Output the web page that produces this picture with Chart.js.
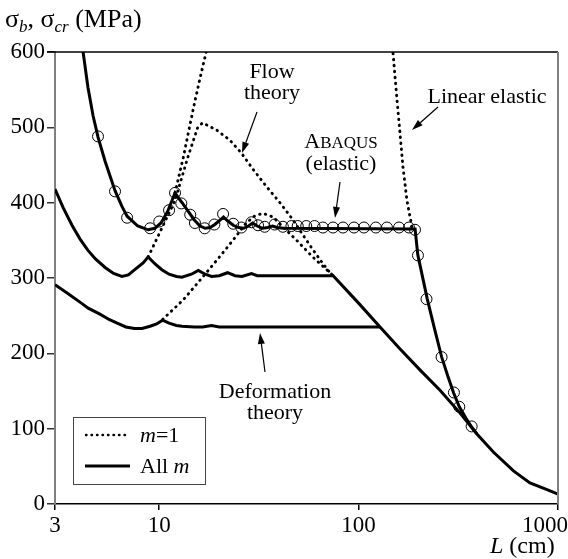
<!DOCTYPE html>
<html>
<head>
<meta charset="utf-8">
<script src="https://cdn.jsdelivr.net/npm/chart.js@4.4.1/dist/chart.umd.min.js"></script>
<style>
  html, body { margin: 0; padding: 0; background: #fff; }
  #wrap { width: 568px; height: 559px; position: relative; }
</style>
</head>
<body>
<div id="wrap"><canvas id="bucklingChart"></canvas></div>
<script>
const xTicks = [3, 10, 100, 1000];
const yTicks = [0, 100, 200, 300, 400, 500, 600];

// All m (solid lines), [L (cm), stress (MPa)]
const elasticAllM = [
  [4.0, 630], [4.15, 600], [4.39, 553], [4.66, 515], [4.93, 487], [5.35, 455], [6.0, 416],
  [6.5, 395], [6.9, 382], [7.8, 369], [8.8, 364], [9.5, 366], [10.2, 373], [11.0, 388],
  [12.0, 413], [12.5, 406], [13.1, 399], [14.0, 388], [15.0, 377], [16.0, 369], [17.0, 366],
  [18.0, 367], [19.0, 371], [20.0, 376], [21.0, 381], [22.0, 376], [23.5, 370], [25.0, 367],
  [26.5, 366], [28.0, 369], [29.4, 373], [31.0, 369], [33.0, 366], [35.0, 367], [37.0, 369],
  [39.0, 367], [42.0, 366], [192, 365], [198, 331], [221, 272], [240, 233], [261, 195],
  [280, 170], [300, 147], [320, 129], [345, 114], [369, 102], [392, 93]
];
const flowAllM = [
  [3.0, 418], [3.3, 393], [3.65, 370], [4.0, 352], [4.38, 337], [4.8, 325], [5.35, 314],
  [5.9, 306], [6.5, 302], [7.0, 304], [7.7, 313], [8.3, 320], [8.8, 328], [9.5, 319],
  [10.3, 311], [11.2, 305], [12.2, 302], [13.0, 301], [14.5, 305], [15.7, 310], [17.0, 305],
  [18.3, 302], [20.0, 303], [22.0, 307], [24.0, 303], [26.0, 302], [29.0, 306], [31.0, 303],
  [74.5, 303], [99.7, 267], [128, 235], [161, 206], [203, 178], [256, 151], [322, 121],
  [392, 93], [474, 69], [598, 44], [723, 28], [881, 19], [1000, 13]
];
const deformationAllM = [
  [3.0, 291], [3.45, 280], [4.1, 266], [4.4, 260], [5.04, 252], [5.6, 245], [6.15, 240],
  [6.8, 235], [7.5, 233], [8.2, 233], [9.0, 236], [9.7, 239], [10.4, 244], [11.2, 240],
  [12.2, 237], [13.0, 236], [15.0, 235], [16.5, 235], [18.3, 237], [20.0, 235], [128, 235]
];

// m = 1 (dotted lines)
const elasticM1 = [
  [12.0, 413], [13.2, 460], [14.3, 505], [15.1, 535], [16.2, 571], [17.2, 600], [17.7, 613]
];
const flowM1 = [
  [8.8, 328], [10.3, 366], [12.0, 403], [13.9, 460], [15.6, 500], [16.5, 506], [19.5, 496],
  [22.6, 483], [25.8, 466], [29.4, 445], [34.6, 421], [40.3, 400], [46.6, 378], [52.6, 357],
  [58.8, 338], [65.0, 322], [71.8, 307], [74.5, 303]
];
const deformationM1 = [
  [10.4, 245], [13.2, 271], [16.0, 297], [19.5, 324], [23.4, 350], [27.3, 373], [30.0, 382],
  [33.0, 386], [37.2, 381], [41.7, 368], [48.9, 350], [58.8, 328], [71.8, 307], [74.5, 303]
];
const linearElasticM1 = [
  [146, 630], [148.6, 600], [155.8, 536], [161.3, 492], [166.9, 447], [174.7, 403],
  [185, 368], [190, 364]
];

// ABAQUS (elastic) results
const abaqusElastic = [
  [4.93, 488], [6.0, 415], [6.9, 380], [9.0, 366], [10.0, 375], [11.2, 390], [12.0, 413],
  [12.9, 399], [14.3, 384], [15.1, 373], [16.9, 366], [18.9, 371], [20.9, 385], [23.5, 372],
  [25.8, 367], [29.0, 374], [31.3, 370], [33.8, 368], [37.9, 371], [41.7, 368], [46.0, 369],
  [49.5, 369], [54.6, 369], [60.1, 369], [66.2, 367], [74.4, 367], [83.5, 367], [94.8, 367],
  [106.3, 367], [122, 367], [138.7, 367], [159.4, 367], [178.9, 367], [191.7, 364],
  [198.4, 330], [219, 272], [260.7, 195], [300.6, 148], [319.8, 129], [368.8, 103]
];

const SERIF = '"Liberation Serif", "Times New Roman", serif';
const DOTS = [0.5, 5.5];

const toXY = arr => arr.map(p => ({ x: p[0], y: p[1] }));

function solid(label, arr) {
  return { label: label, data: toXY(arr), borderColor: '#000', borderWidth: 3,
    pointRadius: 0, tension: 0, fill: false };
}
function dotted(label, arr) {
  return { label: label, data: toXY(arr), borderColor: '#000', borderWidth: 2.9,
    borderDash: DOTS, borderCapStyle: 'round', pointRadius: 0, tension: 0, fill: false };
}

function arrow(ctx, x1, y1, x2, y2) {
  const a = Math.atan2(y2 - y1, x2 - x1);
  const len = 11, w = 3.5;
  const bx = x2 - len * Math.cos(a), by = y2 - len * Math.sin(a);
  ctx.beginPath();
  ctx.moveTo(x1, y1);
  ctx.lineTo(bx, by);
  ctx.lineWidth = 1.2;
  ctx.stroke();
  ctx.beginPath();
  ctx.moveTo(x2, y2);
  ctx.lineTo(bx + w * Math.sin(a), by - w * Math.cos(a));
  ctx.lineTo(bx - w * Math.sin(a), by + w * Math.cos(a));
  ctx.closePath();
  ctx.fill();
}

// draws several runs of text one after another: [text, font, dy]
function runs(ctx, x, y, parts, align) {
  let total = 0;
  parts.forEach(p => { ctx.font = p[1]; total += ctx.measureText(p[0]).width; });
  let cx = align === 'center' ? x - total / 2 : x;
  ctx.textAlign = 'left';
  parts.forEach(p => {
    ctx.font = p[1];
    ctx.fillText(p[0], cx, y + (p[2] || 0));
    cx += ctx.measureText(p[0]).width;
  });
}

const figureText = {
  id: 'figureText',
  afterDraw(chart) {
    const ctx = chart.ctx;
    const area = chart.chartArea;
    const xs = chart.scales.x;
    ctx.save();
    ctx.fillStyle = '#000';
    ctx.strokeStyle = '#000';

    // frame top and right
    ctx.lineWidth = 1.5;
    ctx.beginPath();
    ctx.moveTo(area.left - 8, area.top);
    ctx.lineTo(area.right, area.top);
    ctx.stroke();
    ctx.strokeStyle = '#808080';
    ctx.lineWidth = 2;
    ctx.beginPath();
    ctx.moveTo(area.right, area.top);
    ctx.lineTo(area.right, area.bottom);
    ctx.stroke();
    ctx.strokeStyle = '#000';

    // x tick labels
    ctx.font = '23px ' + SERIF;
    ctx.textBaseline = 'alphabetic';
    xTicks.forEach(v => {
      const px = xs.getPixelForValue(v);
      const w = ctx.measureText(String(v)).width;
      let left = px - w / 2;
      if (left + w > chart.width) left = chart.width - w;
      ctx.textAlign = 'left';
      ctx.fillText(String(v), left, 532);
    });

    // axis titles
    const big = '26px ' + SERIF, sub = 'italic 17px ' + SERIF;
    runs(ctx, 5, 27, [['\u03c3', big], ['b', sub, 5], [', \u03c3', big], ['cr', sub, 5], [' (MPa)', big]]);
    runs(ctx, 490, 553, [['L', 'italic 24px ' + SERIF], [' (cm)', '24px ' + SERIF]]);

    // annotations
    const f = '22px ' + SERIF;
    ctx.font = f;
    ctx.textAlign = 'center';
    ctx.fillText('Flow', 272, 78);
    ctx.fillText('theory', 272, 99);
    ctx.fillText('Linear elastic', 487, 103);
    runs(ctx, 341, 148, [['A', f], ['BAQUS', '17px ' + SERIF]], 'center');
    ctx.font = f;
    ctx.textAlign = 'center';
    ctx.fillText('(elastic)', 341, 170);
    ctx.fillText('Deformation', 275, 398);
    ctx.fillText('theory', 275, 419);
    arrow(ctx, 257, 112, 242, 153);
    arrow(ctx, 438, 107, 412, 130);
    arrow(ctx, 340, 182, 335, 218);
    arrow(ctx, 265, 372, 260, 333);

    // legend box
    ctx.strokeStyle = '#444';
    ctx.lineWidth = 1;
    ctx.strokeRect(73.5, 417.5, 132, 67);
    ctx.strokeStyle = '#000';
    ctx.lineCap = 'round';
    ctx.setLineDash([0.5, 5]);
    ctx.lineWidth = 2.4;
    ctx.beginPath();
    ctx.moveTo(86, 435);
    ctx.lineTo(128, 435);
    ctx.stroke();
    ctx.setLineDash([]);
    ctx.lineCap = 'butt';
    ctx.lineWidth = 3;
    ctx.beginPath();
    ctx.moveTo(85, 466);
    ctx.lineTo(130, 466);
    ctx.stroke();
    runs(ctx, 140, 442, [['m', 'italic 22px ' + SERIF], ['=1', f]]);
    runs(ctx, 140, 473, [['All ', f], ['m', 'italic 22px ' + SERIF]]);

    ctx.restore();
  }
};

document.addEventListener('DOMContentLoaded', function () {
  const ctx = document.getElementById('bucklingChart').getContext('2d');
  new Chart(ctx, {
    type: 'line',
    data: {
      datasets: [
        solid('Elastic, all m', elasticAllM),
        solid('Flow theory, all m', flowAllM),
        solid('Deformation theory, all m', deformationAllM),
        dotted('Elastic, m=1', elasticM1),
        dotted('Flow theory, m=1', flowM1),
        dotted('Deformation theory, m=1', deformationM1),
        dotted('Linear elastic, m=1', linearElasticM1),
        {
          label: 'ABAQUS (elastic)',
          data: toXY(abaqusElastic),
          showLine: false,
          pointStyle: 'circle',
          pointRadius: 5.5,
          pointBorderWidth: 1,
          pointBorderColor: '#000',
          pointBackgroundColor: 'rgba(0,0,0,0)'
        }
      ]
    },
    options: {
      responsive: true,
      maintainAspectRatio: false,
      animation: false,
      layout: { padding: { left: 0, right: 10, top: 52, bottom: 0 } },
      plugins: {
        legend: { display: false },
        tooltip: { enabled: false }
      },
      scales: {
        x: {
          type: 'logarithmic',
          min: 3,
          max: 1000,
          afterBuildTicks: s => { s.ticks = xTicks.map(v => ({ value: v })); },
          afterFit: s => { s.height = 55; s.paddingLeft = 0; s.paddingRight = 0; },
          ticks: { display: false },
          grid: { drawOnChartArea: false, drawTicks: true, tickLength: 6, color: '#000', lineWidth: 1.5 },
          border: { color: '#000', width: 1.5 }
        },
        y: {
          min: 0,
          max: 600,
          afterBuildTicks: s => { s.ticks = yTicks.map(v => ({ value: v })); },
          afterFit: s => { s.width = 55; s.paddingTop = 0; s.paddingBottom = 0; },
          ticks: { color: '#000', padding: 2, font: { family: SERIF, size: 23 } },
          grid: { drawOnChartArea: false, drawTicks: true, tickLength: 8, color: '#333', lineWidth: 1.5 },
          border: { color: '#808080', width: 2 }
        }
      }
    },
    plugins: [figureText]
  });
});
</script>
</body>
</html>
